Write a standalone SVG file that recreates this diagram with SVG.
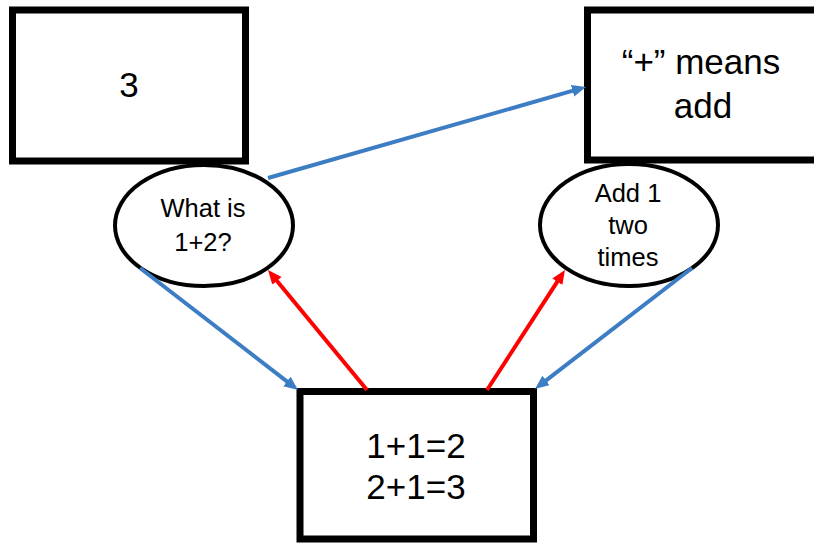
<svg xmlns="http://www.w3.org/2000/svg" width="814" height="543" viewBox="0 0 814 543">
<defs>
<style>
.box{fill:#fff;stroke:#000;stroke-width:7}
.ell{fill:#fff;stroke:#000;stroke-width:4}
.t{font-family:"Liberation Sans",Arial,sans-serif;fill:#000;text-anchor:middle}
.big{font-size:35px}
.sm{font-size:25.5px}
.blue{stroke:#3C7DC4;stroke-width:4;fill:none;marker-end:url(#ab)}
.red{stroke:#FF0000;stroke-width:4;fill:none;marker-end:url(#ar)}
</style>
<marker id="ab" markerUnits="userSpaceOnUse" markerWidth="16" markerHeight="14" refX="6" refY="6" orient="auto"><path d="M0,0 L14,6 L0,12 z" fill="#3C7DC4"/></marker>
<marker id="ar" markerUnits="userSpaceOnUse" markerWidth="16" markerHeight="14" refX="6" refY="6" orient="auto"><path d="M0,0 L14,6 L0,12 z" fill="#FF0000"/></marker>
</defs>
<rect width="814" height="543" fill="#fff"/>
<g id="n3">
<rect class="box" x="12.5" y="10" width="233" height="151"/>
<text class="t big" x="129" y="97">3</text>
</g>
<g id="nplus">
<rect class="box" x="587.5" y="10" width="240" height="150"/>
<text class="t big" x="701" y="74">“+” means</text>
<text class="t big" x="703" y="118">add</text>
</g>
<g id="nsum">
<rect class="box" x="300" y="391.5" width="233.5" height="147.5"/>
<text class="t big" x="416" y="458">1+1=2</text>
<text class="t big" x="416" y="499">2+1=3</text>
</g>
<g id="nq">
<ellipse class="ell" cx="204" cy="225.5" rx="89" ry="60.5"/>
<text class="t sm" x="203" y="217">What is</text>
<text class="t sm" x="203" y="251">1+2?</text>
</g>
<g id="nadd">
<ellipse class="ell" cx="629" cy="225" rx="89" ry="61"/>
<text class="t sm" x="628" y="202">Add 1</text>
<text class="t sm" x="628" y="234">two</text>
<text class="t sm" x="628" y="266">times</text>
</g>
<g id="connectors">
<line class="blue" x1="268" y1="178" x2="578.3" y2="89.2"/>
<line class="blue" x1="140" y1="268" x2="291.7" y2="385.1"/>
<line class="red" x1="367" y1="390" x2="273.1" y2="276.2"/>
<line class="red" x1="487" y1="390" x2="560.6" y2="276.7"/>
<line class="blue" x1="692" y1="268" x2="541.3" y2="384.1"/>
</g>
</svg>
